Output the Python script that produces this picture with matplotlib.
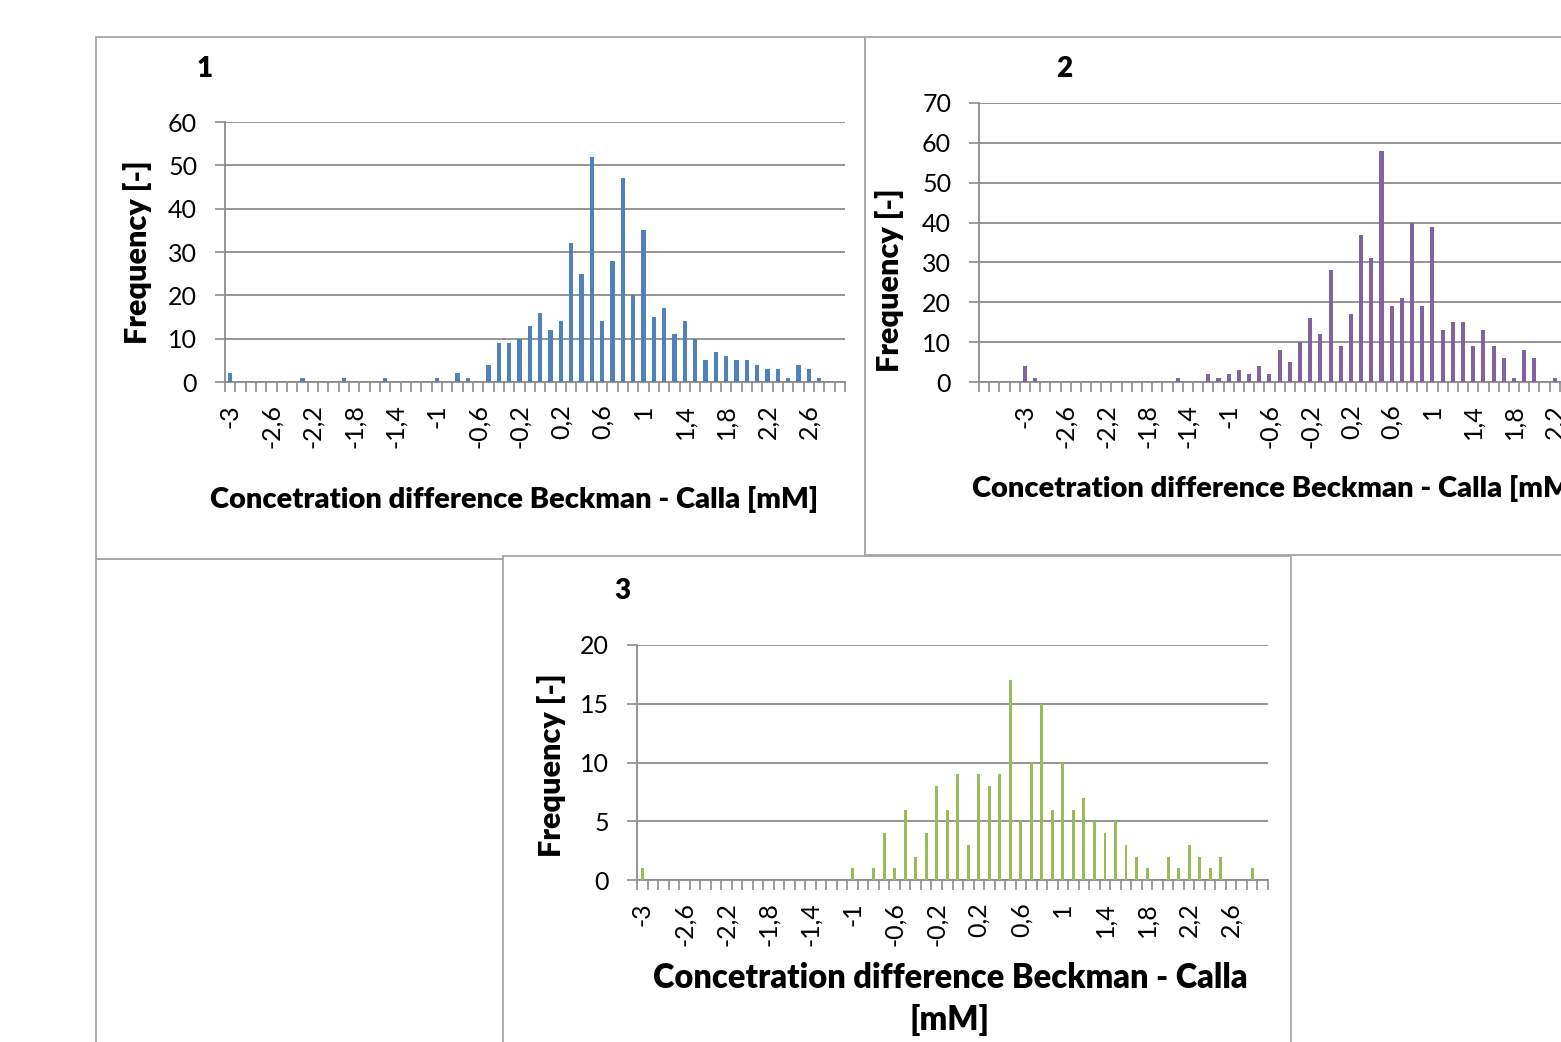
import numpy as np
import matplotlib
matplotlib.use("Agg")
import matplotlib.pyplot as plt
from matplotlib.patches import Rectangle

plt.rcParams['font.family'] = ['Lato', 'DejaVu Sans']

W, H = 1561, 1042

# categories (bin centres, mM)
cats_1 = np.round(np.arange(-3.0, 2.95, 0.1), 1)
cats_2 = np.round(np.arange(-3.4, 2.95, 0.1), 1)
cats_3 = np.round(np.arange(-3.0, 2.95, 0.1), 1)

freq_1 = [2, 0, 0, 0, 0, 0, 0, 1, 0, 0,
          0, 1, 0, 0, 0, 1, 0, 0, 0, 0,
          1, 0, 2, 1, 0, 4, 9, 9, 10, 13,
          16, 12, 14, 32, 25, 52, 14, 28, 47, 20,
          35, 15, 17, 11, 14, 10, 5, 7, 6, 5,
          5, 4, 3, 3, 1, 4, 3, 1, 0, 0]

freq_2 = [0, 0, 0, 0, 4, 1, 0, 0, 0, 0,
          0, 0, 0, 0, 0, 0, 0, 0, 0, 1,
          0, 0, 2, 1, 2, 3, 2, 4, 2, 8,
          5, 10, 16, 12, 28, 9, 17, 37, 31, 58,
          19, 21, 40, 19, 39, 13, 15, 15, 9, 13,
          9, 6, 1, 8, 6, 0, 1, 0, 1, 0,
          1, 0, 0, 0]

freq_3 = [1, 0, 0, 0, 0, 0, 0, 0, 0, 0,
          0, 0, 0, 0, 0, 0, 0, 0, 0, 0,
          1, 0, 1, 4, 1, 6, 2, 4, 8, 6,
          9, 3, 9, 8, 9, 17, 5, 10, 15, 6,
          10, 6, 7, 5, 4, 5, 3, 2, 1, 0,
          2, 1, 3, 2, 1, 2, 0, 0, 1, 0]

xlabel = 'Concetration difference Beckman - Calla [mM]'
ylabel = 'Frequency [-]'

GRID = '#8c8c8c'
BOLD = 'heavy'


def fx(x):
    return x / W


def fy(y):
    return 1 - y / H


def fmt(v):
    s = ('%.1f' % v).rstrip('0').rstrip('.')
    return s.replace('.', ',')


def box(fig, x0, y0, x1, y1, z):
    fig.patches.append(Rectangle((fx(x0), fy(y1)), fx(x1) - fx(x0), fy(y0) - fy(y1),
                                 transform=fig.transFigure, facecolor='white',
                                 edgecolor='#a6a6a6', linewidth=1.3, zorder=z))


def histo(fig, rect, cats, freq, color, ymax, ystep, barw):
    x0, y0, x1, y1 = rect
    ax = fig.add_axes([fx(x0), fy(y1), fx(x1) - fx(x0), fy(y0) - fy(y1)])
    ax.patch.set_alpha(0)
    idx = np.arange(len(cats))
    ax.bar(idx, freq, width=barw, color=color, zorder=3)
    ax.set_xlim(-0.5, len(cats) - 0.5)
    ax.set_ylim(0, ymax)
    ax.set_yticks(np.arange(0, ymax + 1, ystep))
    ax.yaxis.grid(True, color=GRID, linewidth=1.3)
    for s in ['top', 'right']:
        ax.spines[s].set_visible(False)
    for s in ['left', 'bottom']:
        ax.spines[s].set_color(GRID)
        ax.spines[s].set_linewidth(1.3)
    lab_idx = [i for i, c in enumerate(cats) if c >= -3.0 and round((c + 3.0) * 10) % 4 == 0]
    ax.set_xticks(lab_idx)
    ax.set_xticklabels([fmt(cats[i]) for i in lab_idx], rotation=90, va='top', ha='center')
    ax.set_xticks(np.arange(-0.5, len(cats), 1.0), minor=True)
    ax.tick_params(axis='x', which='major', length=0, pad=16, labelsize=18)
    ax.tick_params(axis='x', which='minor', length=7, width=1.2, color=GRID)
    ax.tick_params(axis='y', length=7, width=1.2, color=GRID, pad=13, labelsize=18)
    return ax


fig = plt.figure(figsize=(W / 100, H / 100), dpi=100)

# chart frames
box(fig, 96, 559, 1200, 1200, -6)
box(fig, 96, 37, 865, 559, -5)
box(fig, 865, 37, 1700, 555, -5)
box(fig, 503, 556, 1291, 1200, -4)

histo(fig, (225, 122, 845, 382), cats_1, freq_1, '#4f81bd', 60, 10, 0.4)
histo(fig, (979, 103, 979 + 64 * 10.19, 382), cats_2, freq_2, '#8064a2', 70, 10, 0.4)
histo(fig, (637, 645, 1268, 880), cats_3, freq_3, '#9bbb59', 20, 5, 0.28)

# titles
for t, x, y in [('1', 205, 69), ('2', 1064, 69), ('3', 622, 591)]:
    fig.text(fx(x), fy(y), t, fontsize=20, fontweight=BOLD, ha='center', va='center')

# axis titles
fig.text(fx(138), fy(252), ylabel, rotation=90, fontsize=22, fontweight=BOLD, ha='center', va='center')
fig.text(fx(890), fy(280), ylabel, rotation=90, fontsize=22, fontweight=BOLD, ha='center', va='center')
fig.text(fx(551), fy(765), ylabel, rotation=90, fontsize=22, fontweight=BOLD, ha='center', va='center')

fig.text(fx(514), fy(499), xlabel, fontsize=21, fontweight=BOLD, ha='center', va='center')
fig.text(fx(972), fy(488), xlabel, fontsize=21, fontweight=BOLD, ha='left', va='center')
fig.text(fx(950), fy(999), 'Concetration difference Beckman - Calla\n[mM]', fontsize=23.5,
         fontweight=BOLD, ha='center', va='center', linespacing=1.38)

fig.savefig('out.png', dpi=100)
